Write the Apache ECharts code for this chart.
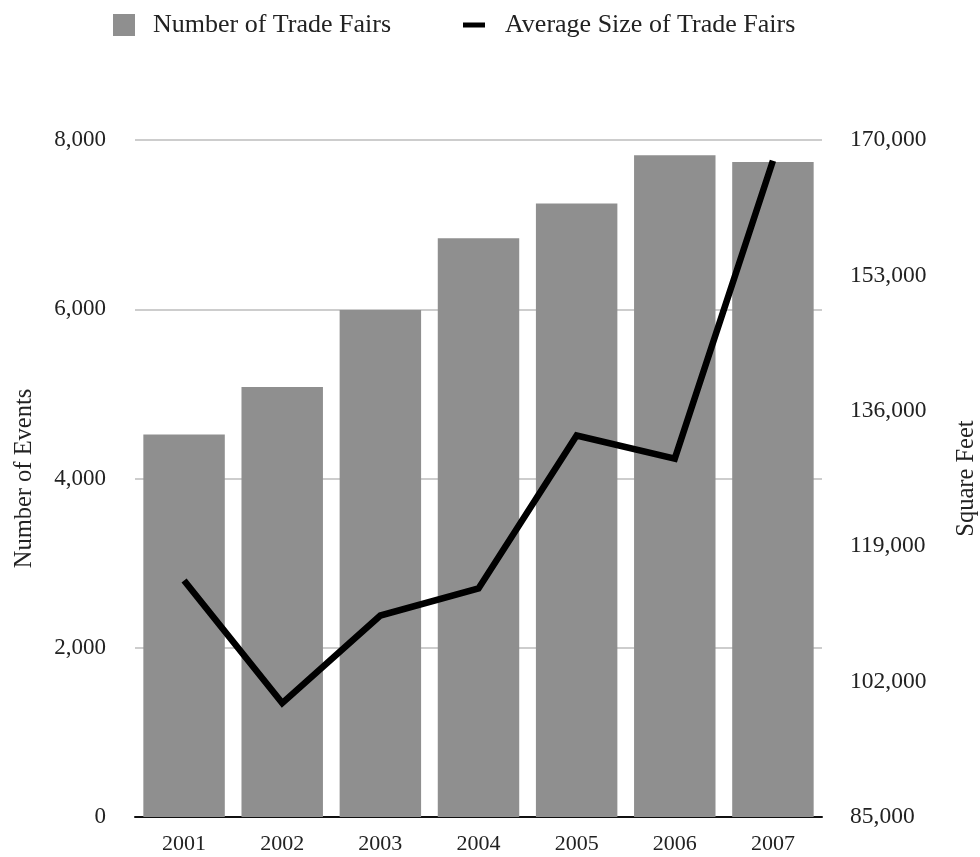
<!DOCTYPE html>
<html>
<head>
<meta charset="utf-8">
<script src="https://cdn.jsdelivr.net/npm/echarts@6/dist/echarts.min.js"></script>
<style>
html,body{margin:0;padding:0;background:#fff;}
#chart{width:980px;height:857px;}
</style>
</head>
<body>
<div id="chart"></div>
<script>
const years = ['2001', '2002', '2003', '2004', '2005', '2006', '2007'];
const tradeFairCounts = [4520, 5080, 5990, 6840, 7250, 7820, 7740];
const averageSizes = [114700, 99300, 110300, 113700, 132900, 130000, 167400];
const leftTicks = { min: 0, max: 8000, interval: 2000 };
const rightTicks = { min: 85000, max: 170000, interval: 17000 };

const FONT = '"Liberation Serif", "Times New Roman", serif';
const fmt = v => v.toLocaleString('en-US');

const chart = echarts.init(document.getElementById('chart'), null, { renderer: 'canvas' });
chart.setOption({
  backgroundColor: '#ffffff',
  animation: false,
  textStyle: { fontFamily: FONT, color: '#222' },
  legend: [
    {
      data: [{ name: 'Number of Trade Fairs', icon: 'rect' }],
      left: 113, top: 12, padding: 0,
      itemWidth: 22, itemHeight: 22,
      textStyle: { fontFamily: FONT, fontSize: 26, color: '#222', padding: [0, 0, 0, 13] }
    },
    {
      data: [{ name: 'Average Size of Trade Fairs', icon: 'rect' }],
      left: 463, top: 12, padding: 0,
      itemWidth: 22, itemHeight: 5,
      textStyle: { fontFamily: FONT, fontSize: 26, color: '#222', padding: [0, 0, 0, 15] }
    }
  ],
  grid: { left: 135, right: 158, top: 140, bottom: 40, containLabel: false, outerBoundsMode: 'none' },
  xAxis: {
    type: 'category',
    data: years,
    axisLine: { lineStyle: { color: '#111', width: 2 } },
    axisTick: { show: false },
    axisLabel: { fontFamily: FONT, fontSize: 22, color: '#222', margin: 16 }
  },
  yAxis: [
    {
      type: 'value',
      min: leftTicks.min, max: leftTicks.max, interval: leftTicks.interval,
      name: 'Number of Events',
      nameLocation: 'middle', nameGap: 98, nameRotate: 90,
      nameTextStyle: { fontFamily: FONT, fontSize: 24.5, color: '#222' },
      axisLine: { show: false },
      axisTick: { show: false },
      axisLabel: { fontFamily: FONT, fontSize: 23, color: '#222', margin: 29, formatter: fmt },
      splitLine: { show: true, lineStyle: { color: '#bdbdbd', width: 1.5 } }
    },
    {
      type: 'value',
      position: 'right',
      min: rightTicks.min, max: rightTicks.max, interval: rightTicks.interval,
      name: 'Square Feet',
      nameLocation: 'middle', nameGap: 132, nameRotate: 90,
      nameTextStyle: { fontFamily: FONT, fontSize: 24.5, color: '#222' },
      axisLine: { show: false },
      axisTick: { show: false },
      axisLabel: { fontFamily: FONT, fontSize: 23.5, color: '#222', margin: 28, formatter: fmt },
      splitLine: { show: false }
    }
  ],
  series: [
    {
      name: 'Number of Trade Fairs',
      type: 'bar',
      yAxisIndex: 0,
      data: tradeFairCounts,
      barCategoryGap: '17%',
      itemStyle: { color: '#8f8f8f' },
      z: 2
    },
    {
      name: 'Average Size of Trade Fairs',
      type: 'line',
      yAxisIndex: 1,
      data: averageSizes,
      symbol: 'none',
      lineStyle: { color: '#000', width: 6.5, join: 'miter' },
      itemStyle: { color: '#000' },
      z: 3
    }
  ]
});
</script>
</body>
</html>
